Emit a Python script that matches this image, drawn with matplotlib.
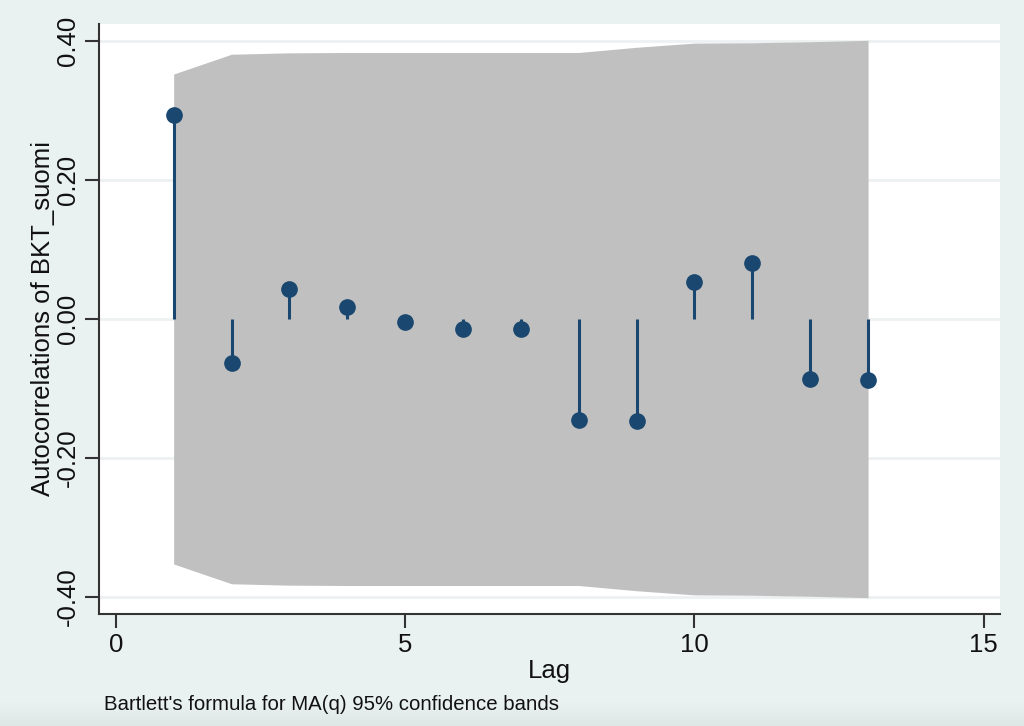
import matplotlib
matplotlib.use("Agg")
import matplotlib.pyplot as plt
import numpy as np

lags = [1, 2, 3, 4, 5, 6, 7, 8, 9, 10, 11, 12, 13]
acf = [0.2935, -0.0633, 0.0432, 0.0173, -0.0043, -0.0144, -0.0144,
       -0.1453, -0.1468, 0.0532, 0.0806, -0.0863, -0.0878]
band_upper = [0.3525, 0.381, 0.383, 0.3835, 0.3835, 0.3835, 0.3835,
              0.3835, 0.391, 0.397, 0.3975, 0.399, 0.401]
band_lower = [-v for v in band_upper]
yticks = [-0.40, -0.20, 0.00, 0.20, 0.40]
xticks = [0, 5, 10, 15]

plt.rcParams['font.family'] = ['Liberation Sans', 'DejaVu Sans']

bg = '#eaf1f1'
navy = '#1a476f'
fig = plt.figure(figsize=(10.24, 7.26), dpi=100, facecolor=bg)

# subtle darker strip at the bottom of the screenshot
bax = fig.add_axes([0, 0, 1, 24/726])
grad = np.linspace(0, 1, 50).reshape(-1, 1)
from matplotlib.colors import LinearSegmentedColormap
cmap = LinearSegmentedColormap.from_list('g', [bg, '#dfe6e6'])
bax.imshow(grad, aspect='auto', cmap=cmap, origin='upper', extent=[0, 1, 0, 1])
bax.set_axis_off()

ax = fig.add_axes([99/1024, (726-614)/726, (1000-99)/1024, (614-24)/726])
ax.set_facecolor('white')

for t in yticks:
    ax.axhline(t, color='#eef1f1', lw=2, zorder=0)

ax.fill_between(lags, band_lower, band_upper, color='#c0c0c0', lw=0, zorder=1)
ax.vlines(lags, 0, acf, color=navy, lw=2.2, zorder=2)
ax.plot(lags, acf, 'o', color=navy, ms=11, zorder=3)

ax.set_xlim(-0.29, 15.28)
ax.set_ylim(-0.4245, 0.4245)
ax.set_yticks(yticks)
ax.set_yticklabels([f"{t:.2f}" for t in yticks], rotation=90, va='center')
ax.set_xticks(xticks)
ax.tick_params(axis='both', labelsize=18.5, color='#333333', length=10, width=1.5,
               labelcolor='#111111', pad=4)
for s in ['top', 'right']:
    ax.spines[s].set_visible(False)
for s in ['left', 'bottom']:
    ax.spines[s].set_color('#333333')
    ax.spines[s].set_linewidth(1.5)

ax.set_ylabel("Autocorrelations of BKT_suomi", fontsize=18.5, color='#111111', labelpad=0.5)
ax.set_xlabel("Lag", fontsize=18.5, color='#111111', labelpad=1)

fig.text(104/1024, 1 - 704/726, "Bartlett's formula for MA(q) 95% confidence bands",
         fontsize=14.7, color='#111111', ha='left', va='center')

fig.savefig("out.png", dpi=100, facecolor=bg)
